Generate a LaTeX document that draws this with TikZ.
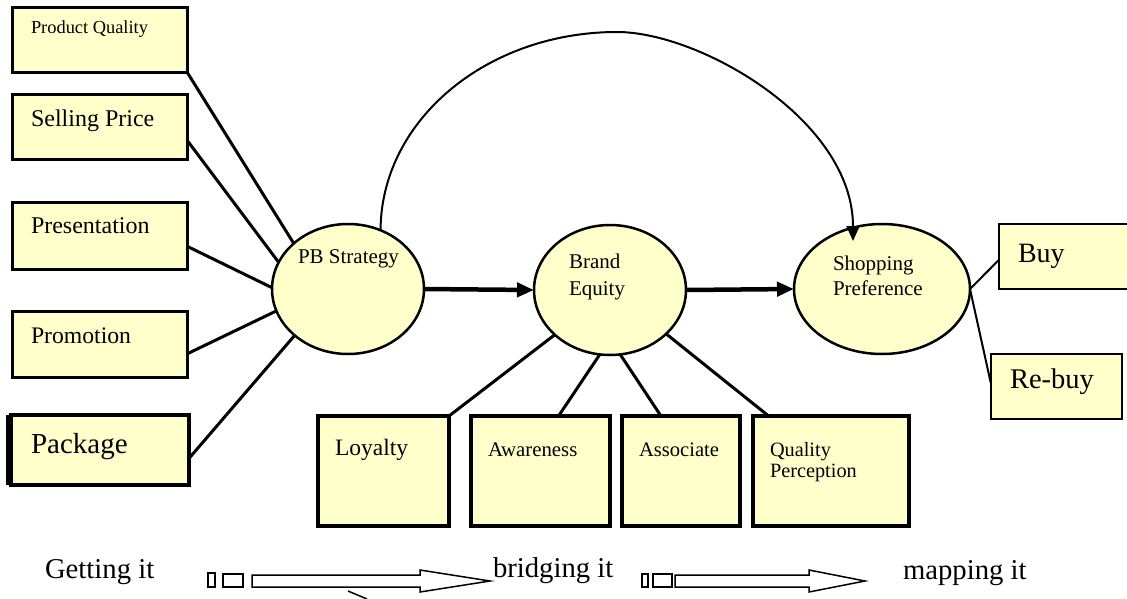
\documentclass[tikz,border=0pt]{standalone}
\usepackage{fontspec}
\setmainfont{Liberation Serif}
\usetikzlibrary{shapes.geometric,arrows.meta,calc}
\definecolor{boxfill}{HTML}{FFFFCC}
\newcommand\fsz[1]{\fontsize{#1}{#1}\selectfont}

\begin{document}
\begin{tikzpicture}[x=1pt,y=-1pt,
  box/.style={draw, fill=boxfill, line width=3, inner sep=0, outer sep=0, anchor=north west},
  lowbox/.style={box, line width=4},
  endbox/.style={box, line width=2},
  oval/.style={ellipse, draw, fill=boxfill, line width=2.5, inner sep=0, outer sep=0},
  txt/.style={anchor=base west, inner sep=0, outer sep=0},
  conn/.style={line width=3},
  thinconn/.style={line width=2},
  mainarrow/.style={line width=4.5, -{Triangle[length=17pt,width=14pt]}},
  curvearrow/.style={line width=2, -{Triangle[length=15pt,width=13pt]}},
  hollow/.style={draw, fill=white, line width=1.5}]

\useasboundingbox (0,0) rectangle (1127,598);

% input boxes on the left
\node[box, minimum width=175, minimum height=65] (pq) at (12,7) {};
\node[box, minimum width=175, minimum height=65] (sell) at (12,94) {};
\node[box, minimum width=175, minimum height=67] (pres) at (12,202) {};
\node[box, minimum width=175, minimum height=66] (promo) at (12,311) {};
\node[box, line width=4, minimum width=178, minimum height=70] (pack) at (11,415) {};
\draw[line width=4] ([xshift=-3pt]pack.north west) -- ([xshift=-3pt]pack.south west);

\node[txt, font=\fsz{18.4}] (pq-t) at (31,33) {Product Quality};
\node[txt, font=\fsz{24}] (sell-t) at (31,126) {Selling Price};
\node[txt, font=\fsz{24}] (pres-t) at (31,233) {Presentation};
\node[txt, font=\fsz{23.7}] (promo-t) at (31,343) {Promotion};
\node[txt, font=\fsz{29}] (pack-t) at (31,453) {Package};

% latent constructs
\node[oval, minimum width=152, minimum height=130] (pb) at (348,289) {};
\node[oval, minimum width=152, minimum height=130] (be) at (610,290) {};
\node[oval, minimum width=176, minimum height=130] (shop) at (882,289) {};

\node[txt, font=\fsz{21}] (pb-t) at (298,263) {PB Strategy};
\node[txt, font=\fsz{21}] (be-t1) at (569,268) {Brand};
\node[txt, font=\fsz{21}] (be-t2) at (569,295) {Equity};
\node[txt, font=\fsz{21}] (shop-t1) at (833,270) {Shopping};
\node[txt, font=\fsz{21}] (shop-t2) at (833,295) {Preference};

% dimensions of brand equity
\node[lowbox, minimum width=131, minimum height=110] (loy) at (318,416) {};
\node[lowbox, minimum width=139, minimum height=110] (aware) at (471,416) {};
\node[lowbox, minimum width=118, minimum height=110] (assoc) at (622,416) {};
\node[lowbox, minimum width=156, minimum height=110] (qp) at (753,416) {};

\node[txt, font=\fsz{23.5}] (loy-t) at (335,455) {Loyalty};
\node[txt, font=\fsz{20.8}] (aware-t) at (488,456) {Awareness};
\node[txt, font=\fsz{20.6}] (assoc-t) at (639,456) {Associate};
\node[txt, font=\fsz{20.3}] (qp-t1) at (770,456) {Quality};
\node[txt, font=\fsz{20.3}] (qp-t2) at (770,477) {Perception};

% outcomes (the Buy box runs on past the right edge)
\node[endbox, minimum width=145, minimum height=65] (buy) at (999,224) {};
\node[endbox, minimum width=131, minimum height=65] (rebuy) at (991,354) {};
\node[txt, font=\fsz{28}] (buy-t) at (1018,262) {Buy};
\node[txt, font=\fsz{28.5}] (rebuy-t) at (1010,388) {Re-buy};

% links into PB Strategy
\draw[conn] (pq.south east) -- (pb.140);
\draw[conn] ($(sell.north east)!0.71!(sell.south east)$) -- (pb.159);
\draw[conn] ($(pres.north east)!0.66!(pres.south east)$) -- (pb.179);
\draw[conn] ($(promo.north east)!0.65!(promo.south east)$) -- (pb.197);
\draw[conn] ($(pack.north east)!0.62!(pack.south east)$) -- (pb.221);

% links from Brand Equity to its dimensions
\draw[conn] (be.219) -- (loy.north east);
\draw[conn] (be.261) -- ($(aware.north west)!0.63!(aware.north east)$);
\draw[conn] (be.279) -- ($(assoc.north west)!0.33!(assoc.north east)$);
\draw[conn] (be.322) -- ($(qp.north west)!0.1!(qp.north east)$);

% links to outcomes
\draw[thinconn] (shop.east) -- ($(buy.north west)!0.55!(buy.south west)$);
\draw[thinconn] (shop.east) -- ($(rebuy.north west)!0.46!(rebuy.south west)$);

% causal chain
\draw[mainarrow] (pb.east) -- (be.west);
\draw[mainarrow] (be.east) -- (shop.west);

% direct effect arc
\coordinate (arctop) at (617,32);
\coordinate (arcend) at (853,241);
\draw[curvearrow] (pb.61) .. controls (381,120) and (487,32) .. (arctop)
  .. controls (700,32) and (853,120) .. (arcend);

% process labels and block arrows
\node[txt, font=\fsz{28.7}] (get) at (45,578) {Getting it};
\node[txt, font=\fsz{28.7}] (bridge) at (493,577) {bridging it};
\node[txt, font=\fsz{28.7}] (map) at (903,579) {mapping it};

\draw[hollow] (208,573) rectangle (215,587);
\draw[hollow] (223,574) rectangle (243,587);
\draw[hollow] (252,575) -- (420,575) -- (420,570) -- (490,581) -- (420,592)
  -- (420,587) -- (252,587) -- cycle;

\draw[hollow] (642,574) rectangle (648,587);
\draw[hollow] (653,574) rectangle (672,587);
\draw[hollow] (675,575) -- (809,575) -- (809,570) -- (865,581) -- (809,592)
  -- (809,587) -- (675,587) -- cycle;

\coordinate (tick1) at (348,591);
\coordinate (tick2) at (367,599);
\draw[line width=1.5] (tick1) -- (tick2);

\end{tikzpicture}
\end{document}
